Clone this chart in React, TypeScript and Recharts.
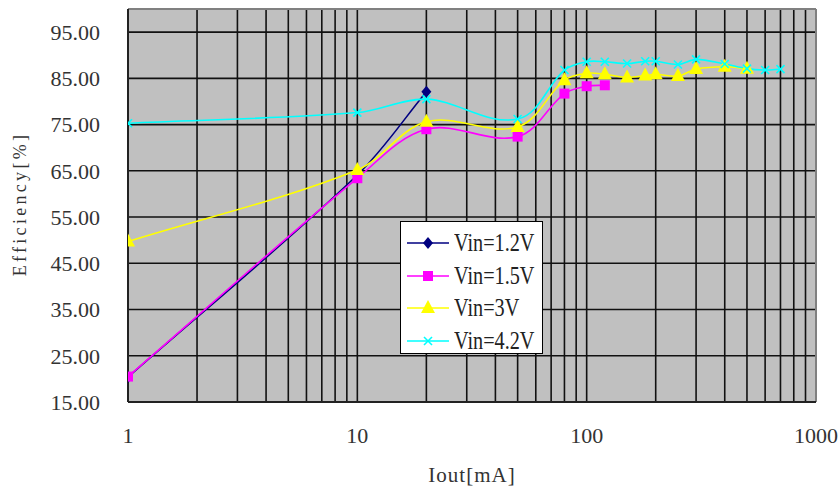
import { LineChart, Line, XAxis, YAxis, CartesianGrid, Legend, ReferenceLine } from 'recharts'

// Iout [mA] and efficiency [%] per input voltage
const iout12 = [1, 10, 20]
const eff12 = [20.4, 64.1, 82.1]

const iout15 = [1, 10, 20, 50, 80, 100, 120]
const eff15 = [20.5, 63.4, 74.0, 72.4, 81.7, 83.3, 83.5]

const iout30 = [1, 10, 20, 50, 80, 100, 120, 150, 180, 200, 250, 300, 400, 500]
const eff30 = [49.7, 65.2, 75.6, 74.5, 84.6, 86.1, 85.9, 85.2, 85.6, 85.9, 85.5, 87.0, 87.5, 87.1]

const iout42 = [1, 10, 20, 50, 80, 100, 120, 150, 180, 200, 250, 300, 400, 500, 600, 700]
const eff42 = [75.3, 77.6, 80.5, 76.2, 86.8, 88.6, 88.6, 88.2, 88.7, 88.7, 88.0, 89.1, 88.1, 87.1, 86.8, 87.0]

const xTicks = [1, 2, 3, 4, 5, 6, 7, 8, 9, 10, 20, 30, 40, 50, 60, 70, 80, 90, 100, 200, 300, 400, 500, 600, 700, 800, 900, 1000]
const xLabels = [1, 10, 100, 1000]
const yTicks = [15, 25, 35, 45, 55, 65, 75, 85, 95]

const FONT = '"Liberation Serif", serif'

const zip = (xs: number[], ys: number[]) => xs.map((x, i) => ({ x, y: ys[i] }))

// spreadsheet-style smoothing: bezier segments, tangent along neighbour chord,
// handle length a third of the segment so short segments don't overshoot
const smoothCurve = (ctx: any) => {
  let pts: [number, number][] = []
  return {
    areaStart() {},
    areaEnd() {},
    lineStart() { pts = [] },
    point(x: number, y: number) { pts.push([+x, +y]) },
    lineEnd() {
      if (!pts.length) return
      const n = pts.length
      const dir = (i: number) => {
        const a = pts[Math.max(0, i - 1)]
        const b = pts[Math.min(n - 1, i + 1)]
        const dx = b[0] - a[0]
        const dy = b[1] - a[1]
        const len = Math.hypot(dx, dy) || 1
        return [dx / len, dy / len]
      }
      ctx.moveTo(pts[0][0], pts[0][1])
      for (let i = 0; i < n - 1; i++) {
        const p0 = pts[i]
        const p1 = pts[i + 1]
        const L = Math.hypot(p1[0] - p0[0], p1[1] - p0[1]) / 3
        const d0 = dir(i)
        const d1 = dir(i + 1)
        ctx.bezierCurveTo(p0[0] + d0[0] * L, p0[1] + d0[1] * L, p1[0] - d1[0] * L, p1[1] - d1[1] * L, p1[0], p1[1])
      }
    },
  }
}

type Shape = 'diamond' | 'square' | 'triangle' | 'cross'

function Marker({ cx, cy, shape, color }: { cx: number; cy: number; shape: Shape; color: string }) {
  if (cx == null || cy == null) return null
  if (shape === 'diamond') {
    return <polygon points={`${cx},${cy - 6} ${cx + 5},${cy} ${cx},${cy + 6} ${cx - 5},${cy}`} fill={color} />
  }
  if (shape === 'square') {
    return <rect x={cx - 5} y={cy - 5} width={10} height={10} fill={color} />
  }
  if (shape === 'triangle') {
    return <polygon points={`${cx},${cy - 8} ${cx + 7},${cy + 5} ${cx - 7},${cy + 5}`} fill={color} />
  }
  return (
    <g stroke={color} strokeWidth={1.6}>
      <line x1={cx - 4} y1={cy - 4} x2={cx + 4} y2={cy + 4} />
      <line x1={cx - 4} y1={cy + 4} x2={cx + 4} y2={cy - 4} />
    </g>
  )
}

const SERIES: { name: string; color: string; shape: Shape; data: { x: number; y: number }[] }[] = [
  { name: 'Vin=1.2V', color: '#000080', shape: 'diamond', data: zip(iout12, eff12) },
  { name: 'Vin=1.5V', color: '#ff00ff', shape: 'square', data: zip(iout15, eff15) },
  { name: 'Vin=3V', color: '#ffff00', shape: 'triangle', data: zip(iout30, eff30) },
  { name: 'Vin=4.2V', color: '#00ffff', shape: 'cross', data: zip(iout42, eff42) },
]

function LegendBox() {
  return (
    <div style={{ width: 143, height: 133, background: '#fff', border: '1.5px solid #000', boxSizing: 'border-box', padding: '5px 0 0 6px' }}>
      {SERIES.map(s => (
        <div key={s.name} style={{ display: 'flex', alignItems: 'center', height: 32.5 }}>
          <svg width={42} height={18} style={{ marginRight: 5 }}>
            <line x1={0} y1={9} x2={42} y2={9} stroke={s.color} strokeWidth={1.5} />
            <Marker cx={21} cy={9} shape={s.shape} color={s.color} />
          </svg>
          <span style={{ fontFamily: FONT, fontSize: 22, color: '#222', lineHeight: 1, display: 'inline-block', transform: 'scale(0.92, 1.1)', transformOrigin: 'left center' }}>{s.name}</span>
        </div>
      ))}
    </div>
  )
}

export default function App() {
  return (
    <div style={{ position: 'absolute', left: 0, top: 0 }}>
      <LineChart width={838} height={486} margin={{ top: 9, right: 22, bottom: 0, left: 0 }}>
        <CartesianGrid stroke="#111" strokeWidth={1.6} fill="#c0c0c0" horizontalValues={yTicks} />
        <XAxis
          type="number"
          dataKey="x"
          scale="log"
          domain={[1, 1000]}
          ticks={xTicks}
          interval={0}
          allowDataOverflow
          height={84}
          tickLine={false}
          tickSize={0}
          tickMargin={25}
          axisLine={{ stroke: '#222', strokeWidth: 2 }}
          tick={{ fontFamily: FONT, fontSize: 22, fill: '#333' }}
          tickFormatter={(v: number) => (xLabels.includes(v) ? String(v) : '')}
          label={{ value: 'Iout[mA]', position: 'insideBottom', offset: 4, style: { fontFamily: FONT, fontSize: 21, fill: '#333', letterSpacing: 1 } }}
        />
        <YAxis
          type="number"
          dataKey="y"
          domain={[15, 100]}
          ticks={yTicks}
          interval={0}
          allowDataOverflow
          width={128}
          tickLine={false}
          tickSize={0}
          tickMargin={28}
          axisLine={{ stroke: '#222', strokeWidth: 2 }}
          tick={{ fontFamily: FONT, fontSize: 22, fill: '#333' }}
          tickFormatter={(v: number) => v.toFixed(2)}
          label={{
            content: () => (
              <text x={0} y={0} transform="translate(26,204) rotate(-90)" textAnchor="middle"
                style={{ fontFamily: FONT, fontSize: 18, fill: '#333', letterSpacing: 3.3 }}>
                Efficiency[%]
              </text>
            ),
          }}
        />
        <ReferenceLine y={100} stroke="#808080" strokeWidth={2} />
        <ReferenceLine x={1000} stroke="#808080" strokeWidth={2} />
        {SERIES.map(s => (
          <Line
            key={s.name}
            name={s.name}
            data={s.data}
            dataKey="y"
            type={smoothCurve as any}
            stroke={s.color}
            strokeWidth={1.6}
            isAnimationActive={false}
            dot={(p: any) => <Marker key={`${s.name}-${p.index}`} cx={p.cx} cy={p.cy} shape={s.shape} color={s.color} />}
            activeDot={false}
          />
        ))}
        <Legend
          layout="vertical"
          align="center"
          verticalAlign="middle"
          content={() => <LegendBox />}
          wrapperStyle={{ left: 400, top: 221, width: 143, height: 133 }}
        />
      </LineChart>
    </div>
  )
}
